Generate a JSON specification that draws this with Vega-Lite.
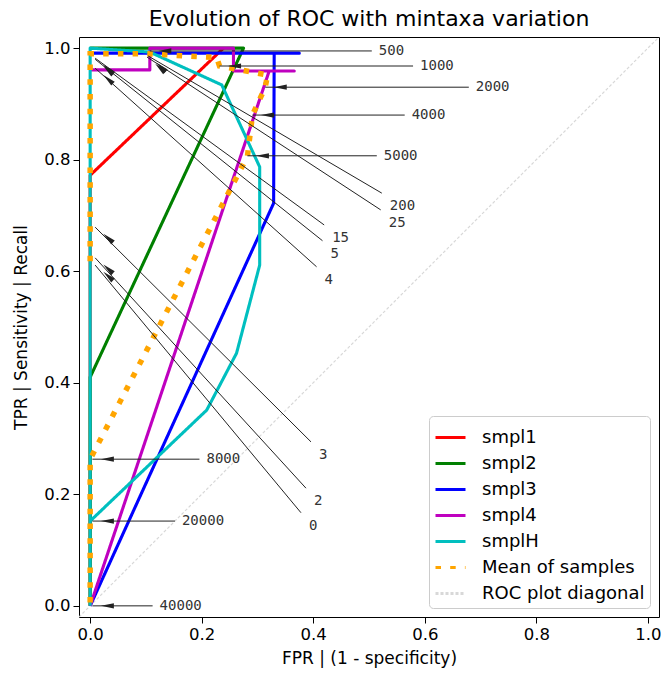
{
  "$schema": "https://vega.github.io/schema/vega-lite/v6.json",
  "width": 580,
  "height": 580,
  "autosize": {"type": "none"},
  "padding": {"left": 79, "top": 37, "right": 2, "bottom": 56},
  "background": "white",
  "title": {"text": "Evolution of ROC with mintaxa variation"},
  "datasets": {
    "curves": [
      {"series": "ROC plot diagonal", "order": 0, "fpr": -0.02, "tpr": -0.02},
      {"series": "ROC plot diagonal", "order": 1, "fpr": 1.02, "tpr": 1.02},
      {"series": "smpl1", "order": 0, "fpr": 0.0, "tpr": 0.0},
      {"series": "smpl1", "order": 1, "fpr": 0.0, "tpr": 0.772},
      {"series": "smpl1", "order": 2, "fpr": 0.239, "tpr": 1.0},
      {"series": "smpl2", "order": 0, "fpr": 0.0, "tpr": 0.0},
      {"series": "smpl2", "order": 1, "fpr": 0.0, "tpr": 0.41},
      {"series": "smpl2", "order": 2, "fpr": 0.275, "tpr": 1.0},
      {"series": "smpl2", "order": 3, "fpr": 0.0, "tpr": 1.0},
      {"series": "smpl3", "order": 0, "fpr": 0.0, "tpr": 0.0},
      {"series": "smpl3", "order": 1, "fpr": 0.329, "tpr": 0.722},
      {"series": "smpl3", "order": 2, "fpr": 0.33, "tpr": 0.991},
      {"series": "smpl3", "order": 3, "fpr": 0.375, "tpr": 0.991},
      {"series": "smpl3", "order": 4, "fpr": 0.0, "tpr": 0.991},
      {"series": "smpl4", "order": 0, "fpr": 0.0, "tpr": 0.0},
      {"series": "smpl4", "order": 1, "fpr": 0.321, "tpr": 0.959},
      {"series": "smpl4", "order": 2, "fpr": 0.366, "tpr": 0.959},
      {"series": "smpl4", "order": 3, "fpr": 0.257, "tpr": 0.959},
      {"series": "smpl4", "order": 4, "fpr": 0.257, "tpr": 1.0},
      {"series": "smpl4", "order": 5, "fpr": 0.107, "tpr": 1.0},
      {"series": "smpl4", "order": 6, "fpr": 0.107, "tpr": 0.961},
      {"series": "smpl4", "order": 7, "fpr": 0.0, "tpr": 0.961},
      {"series": "smplH", "order": 0, "fpr": 0.0, "tpr": 0.0},
      {"series": "smplH", "order": 1, "fpr": 0.0, "tpr": 0.152},
      {"series": "smplH", "order": 2, "fpr": 0.209, "tpr": 0.351},
      {"series": "smplH", "order": 3, "fpr": 0.2625, "tpr": 0.453},
      {"series": "smplH", "order": 4, "fpr": 0.304, "tpr": 0.611},
      {"series": "smplH", "order": 5, "fpr": 0.304, "tpr": 0.787},
      {"series": "smplH", "order": 6, "fpr": 0.236, "tpr": 0.934},
      {"series": "smplH", "order": 7, "fpr": 0.107, "tpr": 0.993},
      {"series": "smplH", "order": 8, "fpr": 0.0, "tpr": 1.0},
      {"series": "smplH", "order": 9, "fpr": 0.0, "tpr": 0.152},
      {"series": "Mean of samples", "order": 0, "fpr": 0.0, "tpr": 0.618},
      {"series": "Mean of samples", "order": 1, "fpr": 0.0, "tpr": 0.632},
      {"series": "Mean of samples", "order": 2, "fpr": 0.0, "tpr": 0.69},
      {"series": "Mean of samples", "order": 3, "fpr": 0.0, "tpr": 0.967},
      {"series": "Mean of samples", "order": 4, "fpr": 0.0, "tpr": 0.982},
      {"series": "Mean of samples", "order": 5, "fpr": 0.0, "tpr": 0.99},
      {"series": "Mean of samples", "order": 6, "fpr": 0.102, "tpr": 0.99},
      {"series": "Mean of samples", "order": 7, "fpr": 0.227, "tpr": 0.983},
      {"series": "Mean of samples", "order": 8, "fpr": 0.232, "tpr": 0.968},
      {"series": "Mean of samples", "order": 9, "fpr": 0.318, "tpr": 0.952},
      {"series": "Mean of samples", "order": 10, "fpr": 0.314, "tpr": 0.93},
      {"series": "Mean of samples", "order": 11, "fpr": 0.291, "tpr": 0.88},
      {"series": "Mean of samples", "order": 12, "fpr": 0.282, "tpr": 0.806},
      {"series": "Mean of samples", "order": 13, "fpr": 0.0, "tpr": 0.263},
      {"series": "Mean of samples", "order": 14, "fpr": 0.0, "tpr": 0.152},
      {"series": "Mean of samples", "order": 15, "fpr": 0.0, "tpr": 0.0}
    ],
    "notes": [
      {"label": "0", "kind": "d", "tipX": 0.009, "tipY": 0.611, "tailX": 0.378, "tailY": 0.167},
      {"label": "2", "kind": "d", "tipX": 0.009, "tipY": 0.624, "tailX": 0.387, "tailY": 0.211},
      {"label": "3", "kind": "d", "tipX": 0.009, "tipY": 0.679, "tailX": 0.396, "tailY": 0.294},
      {"label": "4", "kind": "d", "tipX": 0.009, "tipY": 0.964, "tailX": 0.406, "tailY": 0.608},
      {"label": "5", "kind": "d", "tipX": 0.009, "tipY": 0.98, "tailX": 0.4166, "tailY": 0.6547},
      {"label": "15", "kind": "d", "tipX": 0.009, "tipY": 0.982, "tailX": 0.4196, "tailY": 0.683},
      {"label": "25", "kind": "d", "tipX": 0.102, "tipY": 0.984, "tailX": 0.521, "tailY": 0.71},
      {"label": "200", "kind": "d", "tipX": 0.104, "tipY": 0.986, "tailX": 0.523, "tailY": 0.74},
      {"label": "500", "kind": "h", "tipX": 0.107, "tipY": 0.995, "tailX": 0.505, "tailY": 0.995},
      {"label": "1000", "kind": "h", "tipX": 0.232, "tipY": 0.968, "tailX": 0.579, "tailY": 0.968},
      {"label": "2000", "kind": "h", "tipX": 0.314, "tipY": 0.93, "tailX": 0.679, "tailY": 0.93},
      {"label": "4000", "kind": "h", "tipX": 0.291, "tipY": 0.88, "tailX": 0.564, "tailY": 0.88},
      {"label": "5000", "kind": "h", "tipX": 0.282, "tipY": 0.807, "tailX": 0.514, "tailY": 0.807},
      {"label": "8000", "kind": "h", "tipX": 0.004, "tipY": 0.263, "tailX": 0.196, "tailY": 0.263},
      {"label": "20000", "kind": "h", "tipX": 0.004, "tipY": 0.152, "tailX": 0.152, "tailY": 0.152},
      {"label": "40000", "kind": "h", "tipX": 0.004, "tipY": 0.0, "tailX": 0.112, "tailY": 0.0}
    ]
  },
  "layer": [
    {
      "data": {"name": "curves"},
      "transform": [{"filter": "datum.series === 'ROC plot diagonal'"}],
      "mark": {"type": "line", "strokeWidth": 1.2, "clip": true},
      "encoding": {
        "x": {"field": "fpr", "type": "quantitative", "title": "FPR | (1 - specificity)",
              "scale": {"domain": [-0.02, 1.02], "nice": false, "zero": false},
              "axis": {"values": [0, 0.2, 0.4, 0.6, 0.8, 1.0], "format": ".1f"}},
        "y": {"field": "tpr", "type": "quantitative", "title": "TPR | Sensitivity | Recall",
              "scale": {"domain": [-0.02, 1.02], "nice": false, "zero": false},
              "axis": {"values": [0, 0.2, 0.4, 0.6, 0.8, 1.0], "format": ".1f"}},
        "order": {"field": "order", "type": "quantitative"},
        "color": {"field": "series", "type": "nominal", "title": null,
                  "scale": {"domain": ["smpl1", "smpl2", "smpl3", "smpl4", "smplH", "Mean of samples", "ROC plot diagonal"],
                            "range": ["#ff0000", "#008000", "#0000ff", "#bf00bf", "#00bfbf", "#ffa500", "#d8d8d8"]}},
        "strokeDash": {"field": "series", "type": "nominal", "title": null,
                  "scale": {"domain": ["smpl1", "smpl2", "smpl3", "smpl4", "smplH", "Mean of samples", "ROC plot diagonal"],
                            "range": [[1, 0], [1, 0], [1, 0], [1, 0], [1, 0], [5.5, 9.2], [3, 2]]}}
      }
    },
    {
      "data": {"name": "curves"},
      "transform": [{"filter": "datum.series !== 'ROC plot diagonal' && datum.series !== 'Mean of samples'"}],
      "mark": {"type": "line", "strokeWidth": 3.1, "strokeJoin": "round", "clip": true},
      "encoding": {
        "x": {"field": "fpr", "type": "quantitative", "title": "FPR | (1 - specificity)"},
        "y": {"field": "tpr", "type": "quantitative", "title": "TPR | Sensitivity | Recall"},
        "order": {"field": "order", "type": "quantitative"},
        "color": {"field": "series", "type": "nominal", "title": null},
        "strokeDash": {"field": "series", "type": "nominal", "title": null}
      }
    },
    {
      "data": {"name": "curves"},
      "transform": [{"filter": "datum.series === 'Mean of samples'"}],
      "mark": {"type": "line", "strokeWidth": 5.5, "clip": true},
      "encoding": {
        "x": {"field": "fpr", "type": "quantitative", "title": "FPR | (1 - specificity)"},
        "y": {"field": "tpr", "type": "quantitative", "title": "TPR | Sensitivity | Recall"},
        "order": {"field": "order", "type": "quantitative"},
        "color": {"field": "series", "type": "nominal", "title": null},
        "strokeDash": {"field": "series", "type": "nominal", "title": null}
      }
    },
    {
      "data": {"name": "notes"},
      "mark": {"type": "rule", "color": "#222222", "strokeWidth": 1},
      "encoding": {
        "x": {"field": "tipX", "type": "quantitative", "title": "FPR | (1 - specificity)"},
        "y": {"field": "tipY", "type": "quantitative", "title": "TPR | Sensitivity | Recall"},
        "x2": {"field": "tailX"},
        "y2": {"field": "tailY"}
      }
    },
    {
      "data": {"name": "notes"},
      "transform": [{"filter": "datum.kind === 'h'"}],
      "mark": {"type": "point", "shape": "M-1,0L1,-0.4L1,0.4Z", "filled": true, "color": "#222222", "opacity": 1, "size": 169, "xOffset": 15, "strokeWidth": 0},
      "encoding": {
        "x": {"field": "tipX", "type": "quantitative", "title": "FPR | (1 - specificity)"},
        "y": {"field": "tipY", "type": "quantitative", "title": "TPR | Sensitivity | Recall"}
      }
    },
    {
      "data": {"name": "notes"},
      "transform": [{"filter": "datum.kind === 'd'"}],
      "mark": {"type": "point", "shape": "M-1,0L1,-0.4L1,0.4Z", "filled": true, "color": "#222222", "opacity": 1, "size": 169, "angle": 42, "xOffset": 13, "yOffset": 11, "strokeWidth": 0},
      "encoding": {
        "x": {"field": "tipX", "type": "quantitative", "title": "FPR | (1 - specificity)"},
        "y": {"field": "tipY", "type": "quantitative", "title": "TPR | Sensitivity | Recall"}
      }
    },
    {
      "data": {"name": "notes"},
      "transform": [{"filter": "datum.kind === 'h'"}],
      "mark": {"type": "text", "align": "left", "baseline": "middle", "dx": 7, "font": "DejaVu Sans Mono", "fontSize": 14, "color": "#333333"},
      "encoding": {
        "x": {"field": "tailX", "type": "quantitative", "title": "FPR | (1 - specificity)"},
        "y": {"field": "tailY", "type": "quantitative", "title": "TPR | Sensitivity | Recall"},
        "text": {"field": "label"}
      }
    },
    {
      "data": {"name": "notes"},
      "transform": [{"filter": "datum.kind === 'd'"}],
      "mark": {"type": "text", "align": "left", "baseline": "top", "dx": 8, "dy": 6, "font": "DejaVu Sans Mono", "fontSize": 14, "color": "#333333"},
      "encoding": {
        "x": {"field": "tailX", "type": "quantitative", "title": "FPR | (1 - specificity)"},
        "y": {"field": "tailY", "type": "quantitative", "title": "TPR | Sensitivity | Recall"},
        "text": {"field": "label"}
      }
    }
  ],
  "config": {
    "font": "DejaVu Sans",
    "view": {"stroke": "black", "strokeWidth": 1},
    "title": {"fontSize": 22, "font": "DejaVu Sans", "fontWeight": "normal", "color": "black", "offset": 6, "anchor": "middle"},
    "axis": {"domain": false, "grid": false, "tickColor": "black", "tickSize": 6, "tickWidth": 1,
             "labelColor": "black", "labelFont": "DejaVu Sans", "labelFontSize": 16.5, "labelPadding": 3,
             "titleFont": "DejaVu Sans", "titleFontSize": 17, "titleFontWeight": "normal", "titleColor": "black"},
    "axisX": {"titlePadding": 8},
    "axisY": {"titlePadding": 13},
    "legend": {"orient": "bottom-right", "offset": 9, "padding": 5, "rowPadding": -0.8,
               "strokeColor": "#cccccc", "fillColor": "rgba(255,255,255,0.85)", "cornerRadius": 4,
               "symbolType": "stroke", "symbolSize": 900, "symbolStrokeWidth": 3,
               "labelFontSize": 18, "labelFont": "DejaVu Sans", "labelColor": "black", "labelOffset": 15, "labelLimit": 300}
  }
}
